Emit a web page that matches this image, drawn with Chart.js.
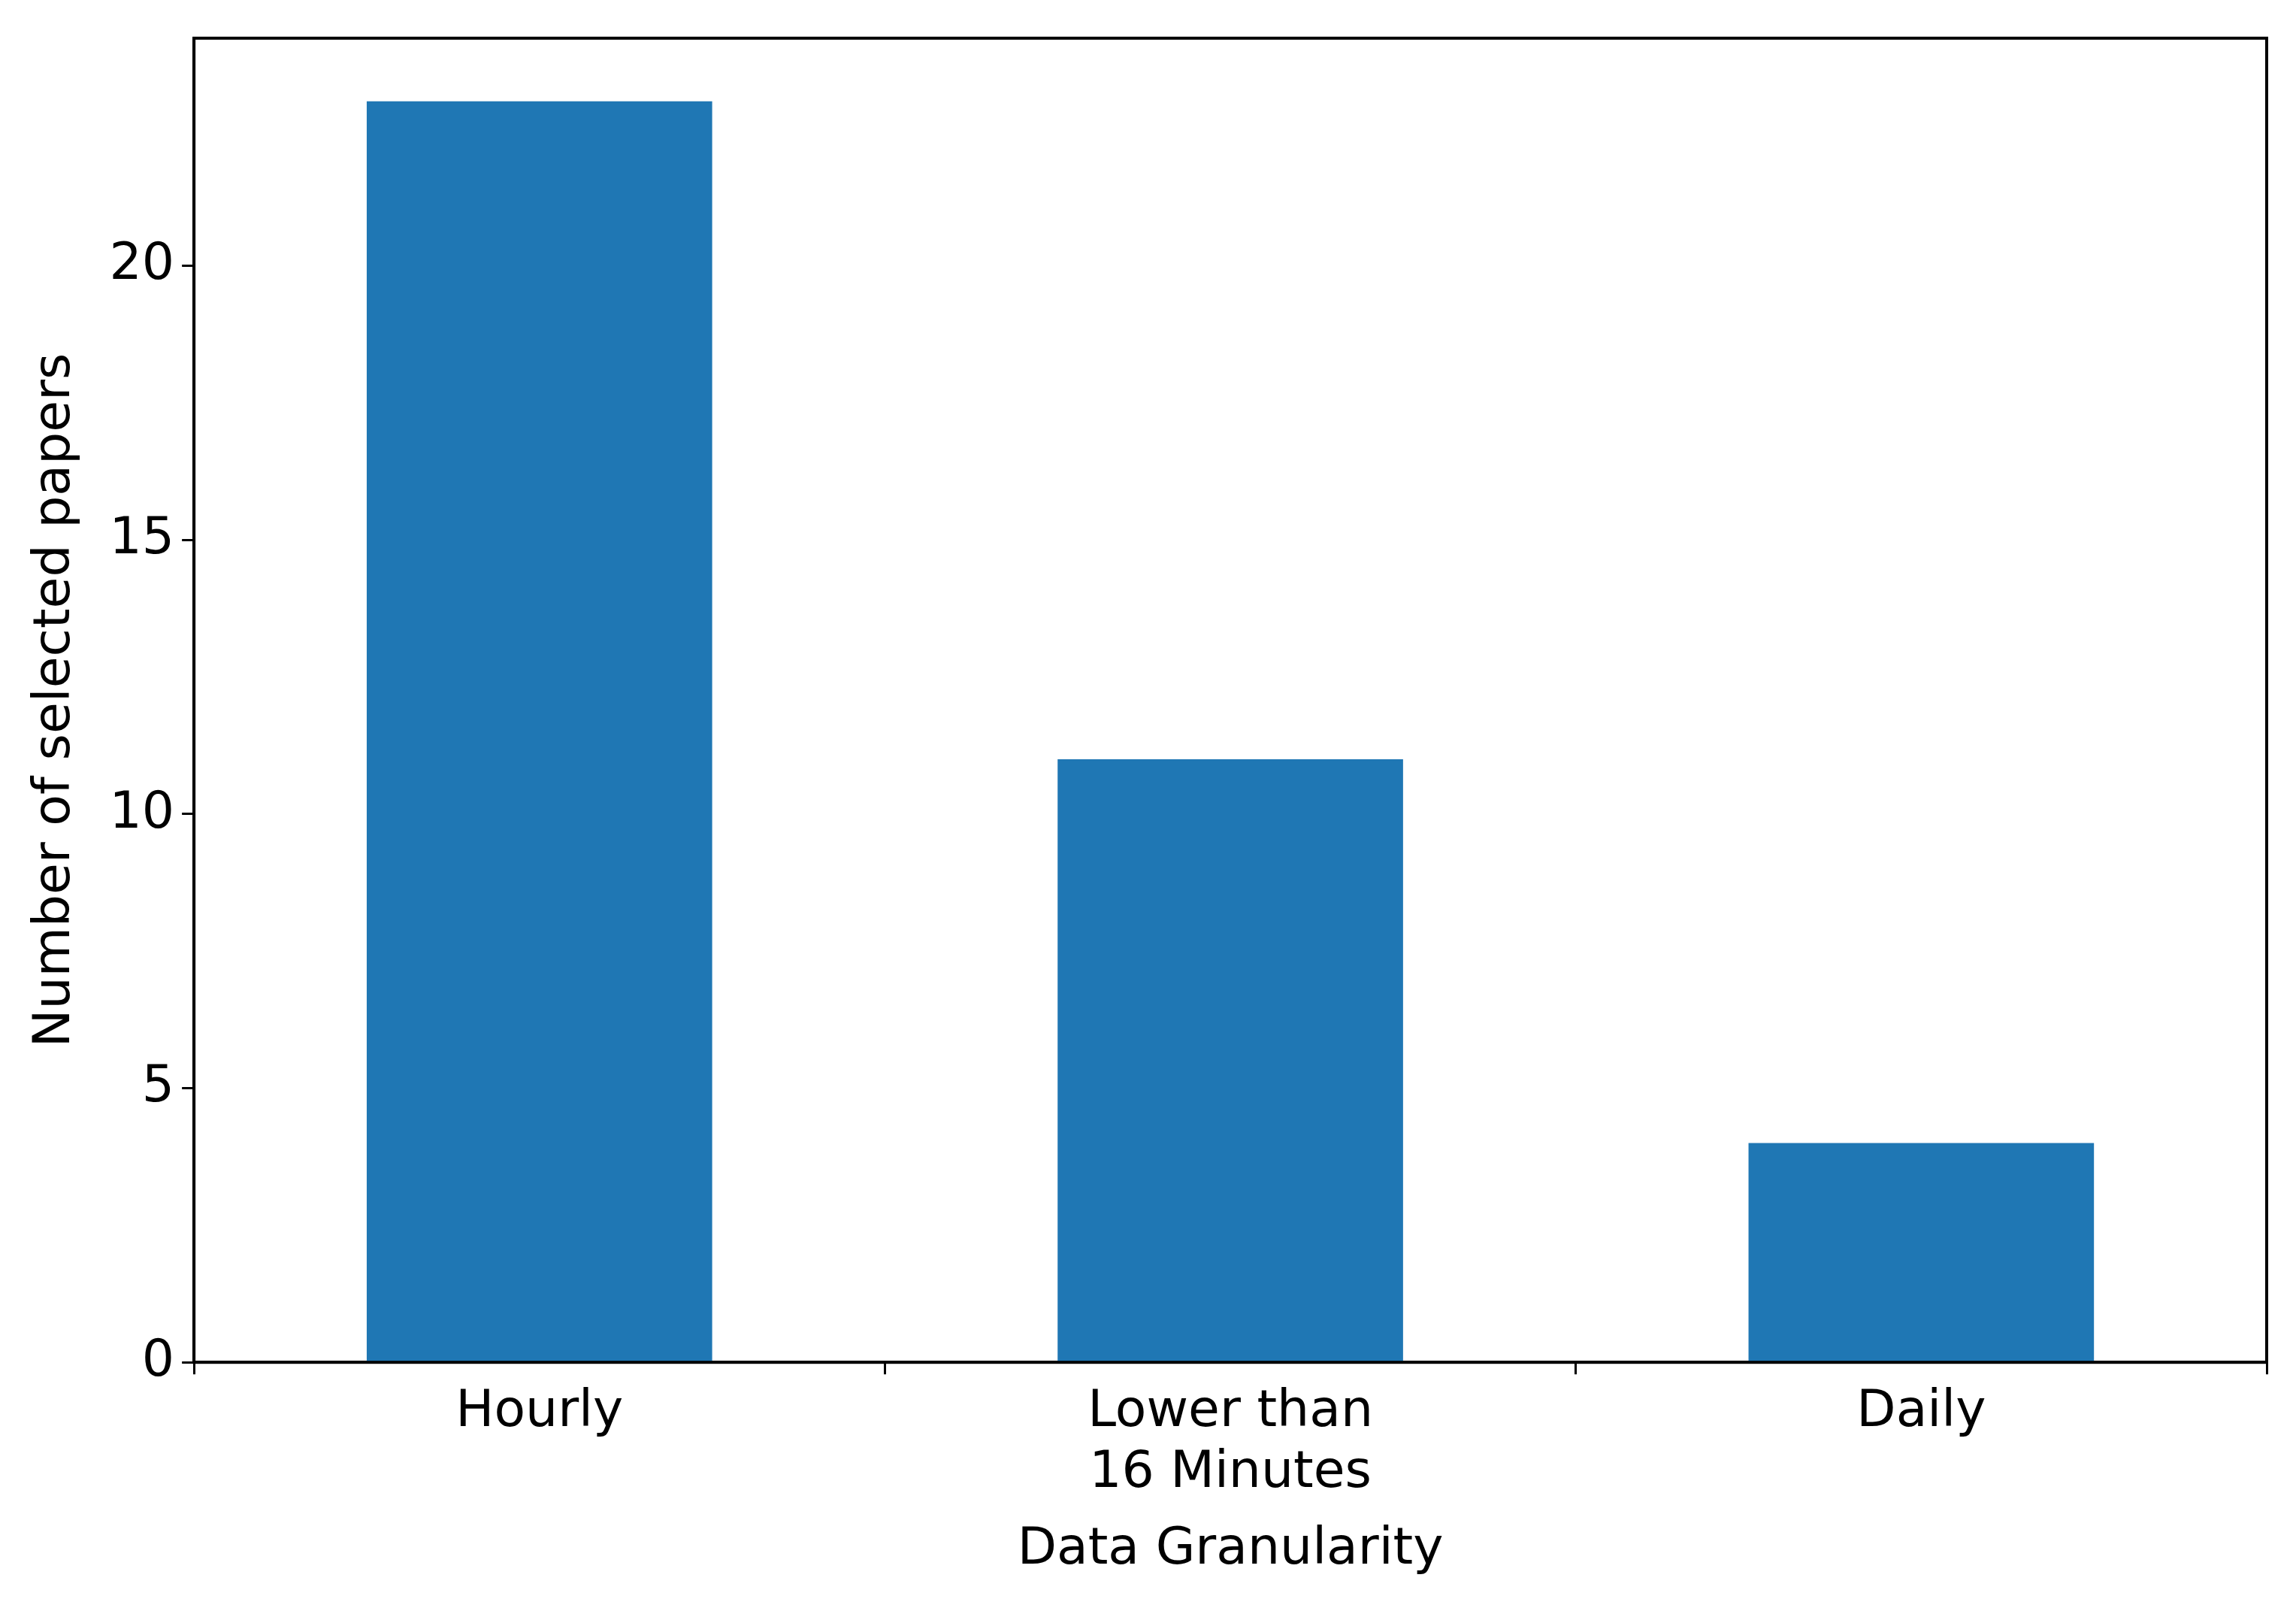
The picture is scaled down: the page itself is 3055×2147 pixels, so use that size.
<!DOCTYPE html>
<html><head><meta charset="utf-8">
<script src="https://cdn.jsdelivr.net/npm/chart.js@4/dist/chart.umd.min.js"></script>
<style>html,body{margin:0;padding:0;background:#fff}#w{width:3055px;height:2147px}</style>
</head><body><div id="w"><canvas id="c"></canvas></div>
<script>
const categories = [["Hourly"], ["Lower than", "16 Minutes"], ["Daily"]];
const paperCounts = [23, 11, 4];
const yTickValues = [0, 5, 10, 15, 20];
const xTitle = "Data Granularity";
const yTitle = "Number of selected papers";

const frame = {id:'frame', afterDraw(ch){const a=ch.chartArea,c=ch.ctx;c.save();c.strokeStyle='#000';c.lineWidth=4;c.strokeRect(a.left,a.top,a.right-a.left,a.bottom-a.top);c.restore();}};
const F = "'DejaVu Sans'";
new Chart(document.getElementById('c'), {
  type:'bar',
  data:{labels:categories, datasets:[{data:paperCounts, backgroundColor:'#1f77b4', barPercentage:0.5, categoryPercentage:1}]},
  options:{responsive:true, maintainAspectRatio:false, animation:false, devicePixelRatio:1,
    layout:{padding:{left:30,top:37,right:39,bottom:40}},
    plugins:{legend:{display:false}, tooltip:{enabled:false}},
    scales:{
      x:{grid:{drawOnChartArea:false, tickLength:16, tickColor:'#000', tickWidth:3}, border:{color:'#000', width:4},
         ticks:{color:'#000', font:{family:F, size:68}, padding:10},
         title:{display:true, text:xTitle, color:'#000', font:{family:F, size:68}, padding:{top:10}}},
      y:{min:0, max:24.15, grid:{drawOnChartArea:false, tickLength:16, tickColor:'#000', tickWidth:3}, border:{color:'#000', width:4},
         afterBuildTicks(s){s.ticks = yTickValues.map(v=>({value:v}));},
         ticks:{color:'#000', font:{family:F, size:68}, padding:10},
         title:{display:true, text:yTitle, color:'#000', font:{family:F, size:68}, padding:{bottom:20}}}
    }},
  plugins:[frame]
});
</script></body></html>
